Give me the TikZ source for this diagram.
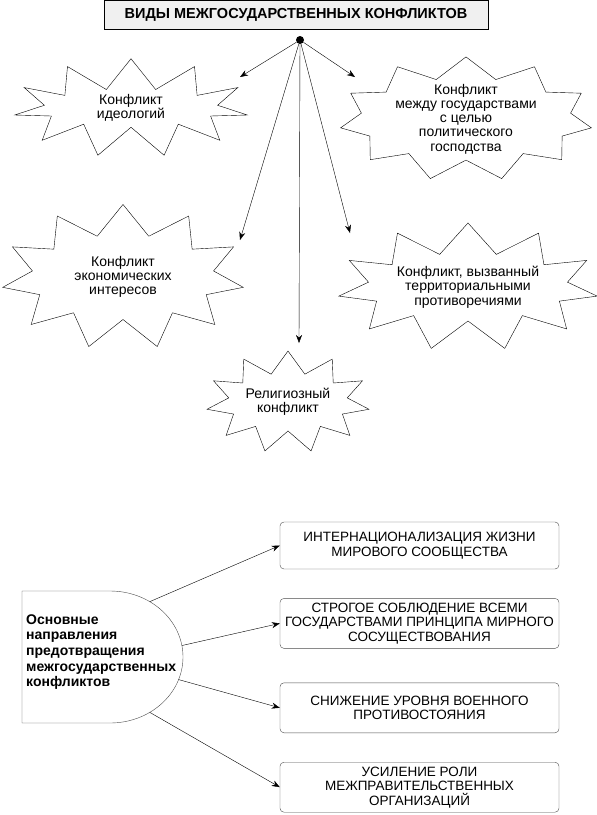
\documentclass[tikz,border=0pt]{standalone}
\usepackage{fontspec}
\setmainfont{Liberation Sans}
\usetikzlibrary{shapes.symbols}
\usetikzlibrary{arrows.meta}
\usetikzlibrary{positioning}
\usetikzlibrary{calc}

\begin{document}
\begin{tikzpicture}[x=1pt,y=-1pt,node distance=29pt,
  burst/.style={draw,starburst,random starburst=0,starburst points=11,starburst point height=30pt,
    align=center,inner sep=0pt,font=\fontsize{14}{14.3}\selectfont},
  waybox/.style={draw=black!70,rounded corners=4pt,minimum width=279pt,minimum height=50pt,
    align=center,font=\fontsize{13.5}{14.5}\selectfont},
  arr/.style={-{Stealth[length=8pt,width=6pt]},thin}]
  \useasboundingbox (0,0) rectangle (597,815);

  % upper part
  \node[draw,fill=gray!12,minimum width=384pt,minimum height=29pt,
    font=\bfseries\fontsize{14.5}{16}\selectfont] (title) at (296,15) {ВИДЫ МЕЖГОСУДАРСТВЕННЫХ КОНФЛИКТОВ};
  \node[circle,fill,inner sep=0pt,minimum size=8pt] (dot) at (300,40) {};

  \node[burst,minimum width=235pt,minimum height=94pt] (ideol) at (131,108) {Конфликт\\идеологий};
  \node[burst,minimum width=245pt,minimum height=112pt,starburst point height=21pt,inner xsep=4pt,inner ysep=-6pt] (polit) at (466,119) {Конфликт\\между государствами\\с целью\\политического\\господства};
  \node[burst,minimum width=243pt,minimum height=145pt] (econ) at (123,277) {Конфликт\\экономических\\интересов};
  \node[burst,minimum width=240pt,minimum height=128pt] (terr) at (468,287) {Конфликт, вызванный\\территориальными\\противоречиями};
  \node[burst,minimum width=142pt,minimum height=102pt,starburst point height=22pt] (relig) at (288,402) {Религиозный\\конфликт};

  \coordinate (ideol-in) at (240,77);
  \coordinate (polit-in) at (355,77);
  \coordinate (econ-in) at (240,240);
  \coordinate (terr-in) at (350,233);
  \coordinate (relig-in) at (299,343);
  \foreach \t in {ideol,polit,econ,terr,relig}
    \draw[arr] (dot) -- (\t-in);

  % lower part
  \draw[black!70] (110,591) -- (22,591) -- (22,723) -- (110,723)
    arc[start angle=-90,end angle=90,x radius=73pt,y radius=66pt];
  \node[anchor=west,align=left,inner sep=0pt,font=\bfseries\fontsize{14}{15.7}\selectfont] (osn) at (26,652)
    {Основные\\направления\\предотвращения\\межгосударственных\\конфликтов};
  \coordinate (o1) at ($(110,657)+(57:73pt and 66pt)$);
  \coordinate (o2) at ($(110,657)+(10:73pt and 66pt)$);
  \coordinate (o3) at ($(110,657)+(-20:73pt and 66pt)$);
  \coordinate (o4) at ($(110,657)+(-57:73pt and 66pt)$);

  \node[waybox,minimum height=47pt] (w1) at (419.5,545.5) {ИНТЕРНАЦИОНАЛИЗАЦИЯ ЖИЗНИ\\МИРОВОГО СООБЩЕСТВА};
  \node[waybox,below=of w1] (w2) {СТРОГОЕ СОБЛЮДЕНИЕ ВСЕМИ\\ГОСУДАРСТВАМИ ПРИНЦИПА МИРНОГО\\СОСУЩЕСТВОВАНИЯ};
  \node[waybox,below=34pt of w2] (w3) {СНИЖЕНИЕ УРОВНЯ ВОЕННОГО\\ПРОТИВОСТОЯНИЯ};
  \node[waybox,below=of w3] (w4) {УСИЛЕНИЕ РОЛИ\\МЕЖПРАВИТЕЛЬСТВЕННЫХ\\ОРГАНИЗАЦИЙ};

  \foreach \i in {1,...,4}
    \draw[arr] (o\i) -- (w\i.west);
\end{tikzpicture}
\end{document}
